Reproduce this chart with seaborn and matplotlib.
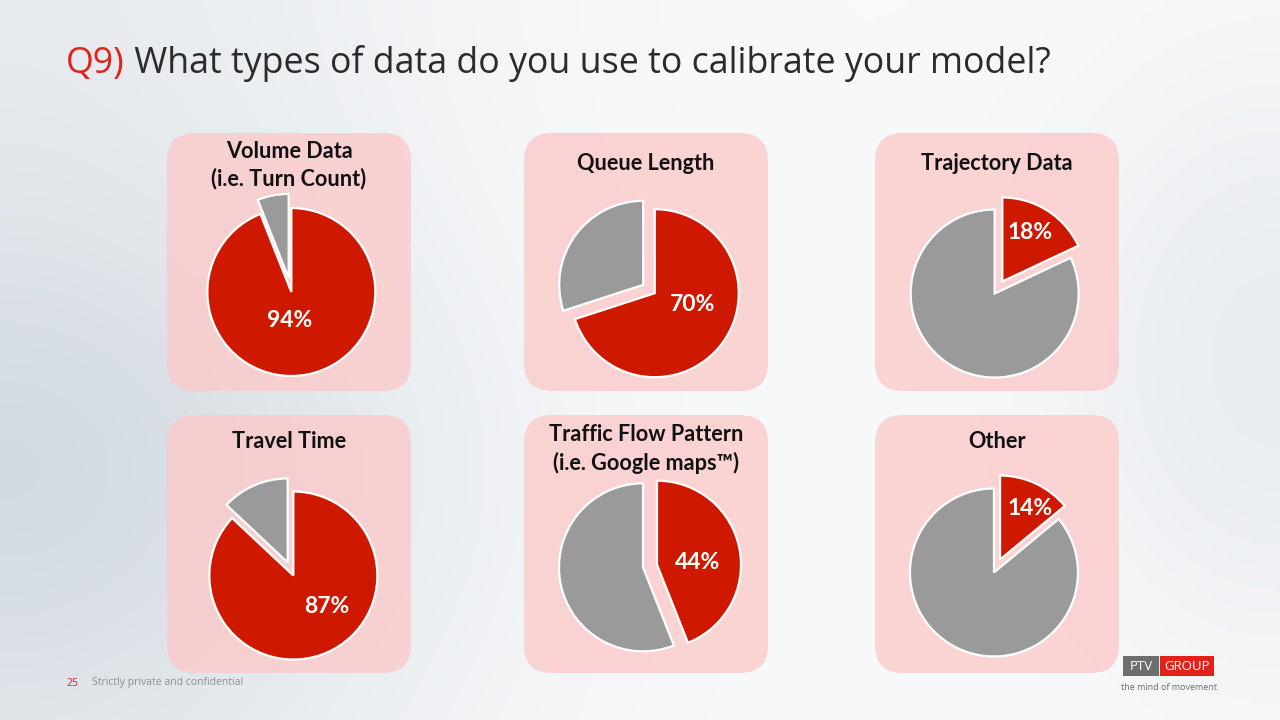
import numpy as np
import matplotlib
matplotlib.use("Agg")
import matplotlib.pyplot as plt
from matplotlib.patches import FancyBboxPatch, Rectangle
import seaborn as sns

# ---------------- data ----------------
categories = ["Volume Data\n(i.e. Turn Count)", "Queue Length", "Trajectory Data",
              "Travel Time", "Traffic Flow Pattern\n(i.e. Google maps\u2122)", "Other"]
yes_share = [94, 70, 18, 87, 44, 14]
pct_labels = ["94%", "70%", "18%", "87%", "44%", "14%"]

title_q = "Q9)"
title_text = " What types of data do you use to calibrate your model?"
footer_num = "25"
footer_text = "Strictly private and confidential"

# ---------------- layout (pixels) ----------------
W, H = 1280, 720
panel_x = [167, 524, 875]
panel_y = [133, 415]
panel_w, panel_h = 244, 258
pie_centers = [(290, 285), (649, 289), (998.5, 287.5),
               (290.5, 569), (650, 566), (997, 566)]
pie_r = 84
label_off = [(0.0, -0.42), (0.52, -0.18), (0.375, 0.65),
             (0.43, -0.45), (0.57, 0.04), (0.39, 0.69)]
title_y = [165, 164, 163, 442, 449, 442]

RED = "#cf1800"
GRAY = "#9a9a9a"

sns.set_theme(style="white")
plt.rcParams['font.family'] = ['Lato', 'DejaVu Sans']

fig = plt.figure(figsize=(W / 100, H / 100), dpi=100)

# background axes in pixel coords
bg = fig.add_axes([0, 0, 1, 1])
bg.set_xlim(0, W)
bg.set_ylim(H, 0)
bg.axis("off")

xx, yy = np.meshgrid(np.linspace(0, W, 320), np.linspace(0, H, 180))
w = 0.85 * np.exp(-(xx / 430) ** 2) * (0.45 + 0.55 * np.exp(-((yy - 470) / 260) ** 2)) \
    + 0.35 * np.exp(-((xx - W) / 230) ** 2) * np.exp(-((yy - 360) / 300) ** 2)
w = np.clip(w, 0, 1)[..., None]
light = np.array([0.975, 0.978, 0.983])
dark = np.array([0.80, 0.835, 0.865])
img = light * (1 - w) + dark * w
bg.imshow(img, extent=[0, W, H, 0], aspect="auto", zorder=0)

# panels
for r in range(2):
    for c in range(3):
        p = FancyBboxPatch((panel_x[c] + 28, panel_y[r] + 28), panel_w - 56, panel_h - 56,
                           boxstyle="round,pad=28", linewidth=0,
                           facecolor=(0.99, 0.79, 0.79), alpha=0.78, zorder=1)
        bg.add_patch(p)

# title (fit to reference width)
tfam = ["Open Sans", "DejaVu Sans"]
fs = 23
t1 = bg.text(66, 64, title_q, color="#e2231a", fontsize=fs, family=tfam,
             va="center", ha="left", zorder=3)
t2 = bg.text(0, 64, title_text, color="#2b2b2b", fontsize=fs, family=tfam,
             va="center", ha="left", zorder=3)
fig.canvas.draw()
r = fig.canvas.get_renderer()
total = t1.get_window_extent(r).width + t2.get_window_extent(r).width
fs = fs * (1053 - 66) / total
t1.set_fontsize(fs)
t2.set_fontsize(fs)
fig.canvas.draw()
t2.set_x(66 + t1.get_window_extent(r).width)

# footer
bg.text(66, 683, footer_num, color="#e2231a", fontsize=7.5, va="center", ha="left",
        family=tfam)
bg.text(92, 683, footer_text, color="#8a8f95", fontsize=7.5, va="center", ha="left",
        family=tfam)

# logo
bg.add_patch(Rectangle((1123, 656), 36, 20, facecolor="#6d6e70", linewidth=0, zorder=3))
bg.add_patch(Rectangle((1160, 656), 54, 20, facecolor="#e2231a", linewidth=0, zorder=3))
bg.text(1141, 666.5, "PTV", color="white", fontsize=9.5, ha="center", va="center", zorder=4,
        family=tfam)
bg.text(1187, 666.5, "GROUP", color="white", fontsize=9.5, ha="center", va="center", zorder=4,
        family=tfam)
bg.text(1169, 687, "the mind of movement", color="#6d6e70", fontsize=6.5, ha="center",
        va="center", family=tfam)

# panel titles
for i, cat in enumerate(categories):
    c = i % 3
    bg.text(panel_x[c] + panel_w / 2, title_y[i], cat, ha="center", va="center",
            fontsize=15.6, fontweight="bold", color="#111111", linespacing=1.35, zorder=3)

# pies
half = 110
lim = half / pie_r
for i, (cx, cy) in enumerate(pie_centers):
    ax = fig.add_axes([(cx - half) / W, 1 - (cy + half) / H, 2 * half / W, 2 * half / H])
    ax.pie([yes_share[i], 100 - yes_share[i]], colors=[RED, GRAY], startangle=90,
           counterclock=False, explode=[0.085, 0.085], radius=1, frame=True,
           wedgeprops=dict(edgecolor="white", linewidth=1.6))
    ax.set_xlim(-lim, lim)
    ax.set_ylim(-lim, lim)
    ax.axis("off")
    dx, dy = label_off[i]
    ax.text(dx, dy, pct_labels[i], color="white", fontsize=16.5, fontweight="bold",
            ha="center", va="center")

fig.savefig("out.png", dpi=100)
